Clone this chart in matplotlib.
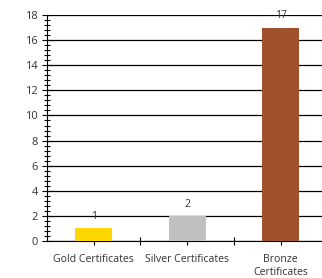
import matplotlib.pyplot as plt
from matplotlib.ticker import MultipleLocator

categories = ["Gold Certificates", "Silver Certificates", "Bronze\nCertificates"]
counts = [1, 2, 17]
colors = ["#FFD700", "#C0C0C0", "#A0522D"]

plt.rcParams["font.family"] = ["Open Sans", "DejaVu Sans"]

fig = plt.figure(figsize=(3.22, 2.78), dpi=100)
ax = fig.add_axes([0.146, 0.133, 0.871, 0.813])

x = list(range(len(categories)))
bars = ax.bar(x, counts, width=0.4, color=colors, zorder=3)
for b, v in zip(bars, counts):
    ax.text(b.get_x() + b.get_width() / 2, v + 0.5, str(v), ha="center",
            va="bottom", fontsize=7.5, color="#333333", zorder=4)

ax.set_xlim(-0.5, len(categories) - 0.5)
ax.set_ylim(0, 18)
ax.yaxis.set_major_locator(MultipleLocator(2))
ax.yaxis.set_minor_locator(MultipleLocator(0.4))
ax.yaxis.grid(True, which="major", color="black", linewidth=0.9, zorder=0)

ax.set_xticks(x)
ax.set_xticklabels(categories, fontsize=7.6, color="#333333", linespacing=1.3)
ax.set_xticks([0.5, 1.5], minor=True)
ax.tick_params(axis="x", which="both", direction="inout", length=6,
               width=0.8, pad=6)
ax.tick_params(axis="y", which="major", direction="inout", length=7,
               width=0.8, labelsize=8, labelcolor="#333333", pad=3)
ax.tick_params(axis="y", which="minor", direction="inout", length=5,
               width=0.8)

for s in ["top", "right"]:
    ax.spines[s].set_visible(False)
ax.spines["left"].set_color("black")
ax.spines["bottom"].set_color("black")

fig.savefig("out.png", dpi=100)
